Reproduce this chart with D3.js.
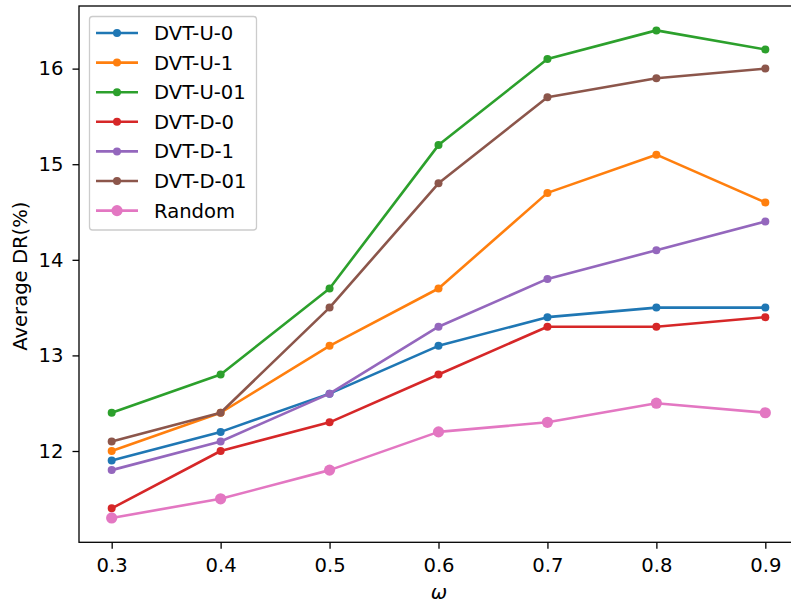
<!DOCTYPE html>
<html><head><meta charset="utf-8">
<script src="https://cdn.jsdelivr.net/npm/d3@7"></script>
<style>body{margin:0;background:#fff}svg{display:block}text{font-family:"DejaVu Sans",sans-serif}</style>
</head><body>
<svg id="c" width="791" height="604"></svg>
<script>
const omega = [0.3, 0.4, 0.5, 0.6, 0.7, 0.8, 0.9];
const xTicks = [0.3, 0.4, 0.5, 0.6, 0.7, 0.8, 0.9];
const yTicks = [12, 13, 14, 15, 16];
const seriesNames = ["DVT-U-0","DVT-U-1","DVT-U-01","DVT-D-0","DVT-D-1","DVT-D-01","Random"];
const colors = ["#1f77b4","#ff7f0e","#2ca02c","#d62728","#9467bd","#8c564b","#e377c2"];
const dvtU0  = [11.9, 12.2, 12.6, 13.1, 13.4, 13.5, 13.5];
const dvtU1  = [12.0, 12.4, 13.1, 13.7, 14.7, 15.1, 14.6];
const dvtU01 = [12.4, 12.8, 13.7, 15.2, 16.1, 16.4, 16.2];
const dvtD0  = [11.4, 12.0, 12.3, 12.8, 13.3, 13.3, 13.4];
const dvtD1  = [11.8, 12.1, 12.6, 13.3, 13.8, 14.1, 14.4];
const dvtD01 = [12.1, 12.4, 13.5, 14.8, 15.7, 15.9, 16.0];
const random = [11.3, 11.5, 11.8, 12.2, 12.3, 12.5, 12.4];
const allSeries = [dvtU0, dvtU1, dvtU01, dvtD0, dvtD1, dvtD01, random];

const FS = 19.6;
const svg = d3.select("#c");
const L = 79, R = 798, T = 6, B = 542.3;
const x = d3.scaleLinear().domain([0.27, 0.93]).range([L, R]);
const y = d3.scaleLinear().domain([11.045, 16.655]).range([B, T]);

const gx = svg.append("g").attr("transform", `translate(0,${B})`)
  .call(d3.axisBottom(x).tickValues(xTicks).tickFormat(d3.format(".1f")).tickSize(6.5).tickPadding(9.5));
const gy = svg.append("g").attr("transform", `translate(${L},0)`)
  .call(d3.axisLeft(y).tickValues(yTicks).tickFormat(d3.format("d")).tickSize(6.5).tickPadding(9));
[gx, gy].forEach(g => {
  g.select(".domain").remove();
  g.selectAll("line").attr("stroke", "#000").attr("stroke-width", 1.3);
  g.selectAll("text").attr("font-size", FS).attr("fill", "#000").attr("font-family", "DejaVu Sans");
});

// spines
svg.append("rect").attr("x", L).attr("y", T).attr("width", R - L).attr("height", B - T)
  .attr("fill", "none").attr("stroke", "#000").attr("stroke-width", 1.3);

const line = d3.line().x((d, i) => x(omega[i])).y(d => y(d));
allSeries.forEach((s, k) => {
  const g = svg.append("g");
  g.append("path").datum(s).attr("d", line).attr("fill", "none")
    .attr("stroke", colors[k]).attr("stroke-width", 2.6).attr("stroke-linejoin", "round");
  g.selectAll("circle").data(s).join("circle")
    .attr("cx", (d, i) => x(omega[i])).attr("cy", d => y(d))
    .attr("r", k === 6 ? 5.6 : 4).attr("fill", colors[k]);
});

// legend
const lg = svg.append("g");
lg.append("rect").attr("x", 89.5).attr("y", 16.5).attr("width", 167).attr("height", 213.5)
  .attr("rx", 3).attr("fill", "#fff").attr("fill-opacity", 0.8).attr("stroke", "#ccc").attr("stroke-width", 1.3);
seriesNames.forEach((n, k) => {
  const yy = 33 + k * 29.6;
  lg.append("line").attr("x1", 96).attr("x2", 138).attr("y1", yy).attr("y2", yy)
    .attr("stroke", colors[k]).attr("stroke-width", 2.6);
  lg.append("circle").attr("cx", 117).attr("cy", yy).attr("r", k === 6 ? 5.6 : 4).attr("fill", colors[k]);
  lg.append("text").attr("x", 154).attr("y", yy).attr("dy", "0.36em").attr("font-size", FS).text(n);
});

svg.append("text").attr("transform", `translate(27,${(T + B) / 2 + 2}) rotate(-90)`)
  .attr("text-anchor", "middle").attr("font-size", FS).text("Average DR(%)");
svg.append("text").attr("x", 439).attr("y", 599).attr("text-anchor", "middle")
  .attr("font-size", FS).attr("font-style", "italic").text("ω");
</script>
</body></html>
